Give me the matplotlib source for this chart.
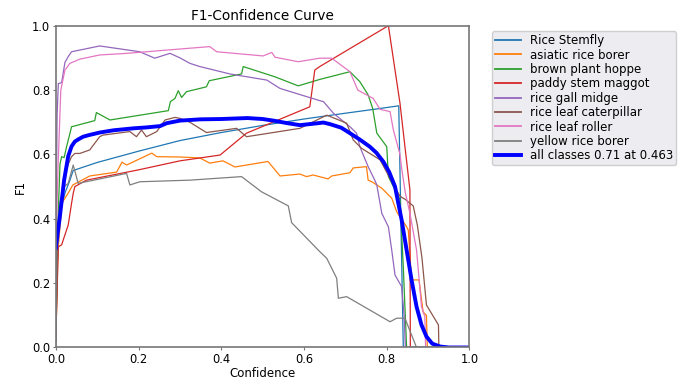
import matplotlib
matplotlib.use('Agg')
import matplotlib.pyplot as plt

# class names as shown in the legend
names = ['Rice Stemfly', 'asiatic rice borer', 'brown plant hoppe', 'paddy stem maggot',
         'rice gall midge', 'rice leaf caterpillar', 'rice leaf roller', 'yellow rice borer']

# per class F1 curves (confidence, F1)
stemfly_x = [0, 0.003, 0.01, 0.022, 0.034, 0.042, 0.1, 0.2, 0.3, 0.4, 0.5, 0.6, 0.7, 0.78, 0.829, 0.84, 1.0]
stemfly_y = [0.02, 0.25, 0.42, 0.48, 0.52, 0.55, 0.575, 0.61, 0.643, 0.668, 0.69, 0.71, 0.728, 0.742, 0.751, 0.0, 0.0]

asiatic_x = [0, 0.005, 0.015, 0.03, 0.041, 0.082, 0.147, 0.16, 0.171, 0.232, 0.244, 0.30, 0.348, 0.372, 0.404,
             0.433, 0.513, 0.542, 0.59, 0.606, 0.622, 0.658, 0.667, 0.711, 0.719, 0.751, 0.755, 0.764, 0.788,
             0.812, 0.824, 0.848, 0.852, 0.86, 0.878, 0.888, 0.896, 0.898, 1.0]
asiatic_y = [0.02, 0.3, 0.45, 0.48, 0.505, 0.533, 0.545, 0.576, 0.567, 0.604, 0.593, 0.592, 0.589, 0.573, 0.58,
             0.561, 0.578, 0.533, 0.539, 0.531, 0.536, 0.524, 0.533, 0.543, 0.558, 0.562, 0.52, 0.515, 0.495,
             0.464, 0.422, 0.375, 0.365, 0.21, 0.21, 0.11, 0.10, 0.0, 0.0]

hopper_x = [0, 0.004, 0.01, 0.014, 0.02, 0.026, 0.038, 0.05, 0.094, 0.098, 0.131, 0.272, 0.277, 0.288, 0.296,
            0.304, 0.316, 0.364, 0.371, 0.449, 0.453, 0.53, 0.586, 0.638, 0.711, 0.735, 0.755, 0.766, 0.776,
            0.80, 0.804, 0.816, 0.832, 0.84, 0.848, 1.0]
hopper_y = [0.02, 0.35, 0.57, 0.593, 0.59, 0.624, 0.686, 0.69, 0.705, 0.73, 0.707, 0.736, 0.764, 0.774, 0.798,
            0.777, 0.795, 0.81, 0.829, 0.85, 0.873, 0.841, 0.813, 0.833, 0.857, 0.826, 0.785, 0.743, 0.666,
            0.624, 0.531, 0.5, 0.46, 0.25, 0.0, 0.0]

maggot_x = [0, 0.006, 0.014, 0.03, 0.038, 0.042, 0.046, 0.074, 0.2, 0.30, 0.397, 0.461, 0.614, 0.626, 0.638,
            0.804, 0.82, 0.832, 0.844, 0.856, 0.857, 1.0]
maggot_y = [0.034, 0.313, 0.319, 0.381, 0.448, 0.479, 0.5, 0.52, 0.552, 0.58, 0.598, 0.666, 0.748, 0.862, 0.873,
            1.0, 0.862, 0.759, 0.624, 0.49, 0.0, 0.0]

midge_x = [0, 0.003, 0.006, 0.014, 0.022, 0.03, 0.038, 0.106, 0.203, 0.239, 0.276, 0.30, 0.324, 0.348, 0.421,
           0.51, 0.542, 0.638, 0.647, 0.671, 0.711, 0.727, 0.735, 0.755, 0.771, 0.776, 0.788, 0.804, 0.812,
           0.82, 0.836, 0.842, 0.845, 1.0]
midge_y = [0.3, 0.72, 0.82, 0.823, 0.886, 0.904, 0.919, 0.937, 0.919, 0.899, 0.914, 0.90, 0.883, 0.873, 0.85,
           0.831, 0.805, 0.767, 0.764, 0.728, 0.686, 0.666, 0.624, 0.562, 0.52, 0.505, 0.417, 0.375, 0.303,
           0.225, 0.189, 0.1, 0.0, 0.0]

caterpillar_x = [0, 0.005, 0.02, 0.03, 0.038, 0.046, 0.058, 0.082, 0.106, 0.114, 0.179, 0.195, 0.207, 0.219,
                 0.244, 0.264, 0.288, 0.30, 0.324, 0.364, 0.437, 0.461, 0.59, 0.655, 0.703, 0.719, 0.739, 0.784,
                 0.81, 0.832, 0.845, 0.864, 0.874, 0.885, 0.896, 0.925, 0.926, 1.0]
caterpillar_y = [0.02, 0.35, 0.52, 0.57, 0.593, 0.603, 0.603, 0.614, 0.655, 0.66, 0.671, 0.655, 0.676, 0.655,
                 0.671, 0.707, 0.715, 0.712, 0.70, 0.668, 0.681, 0.655, 0.681, 0.722, 0.697, 0.645, 0.619, 0.583,
                 0.52, 0.47, 0.46, 0.44, 0.38, 0.28, 0.132, 0.07, 0.0, 0.0]

roller_x = [0, 0.005, 0.012, 0.022, 0.034, 0.058, 0.106, 0.171, 0.324, 0.372, 0.389, 0.501, 0.522, 0.53, 0.586,
            0.638, 0.667, 0.711, 0.73, 0.767, 0.784, 0.808, 0.816, 0.832, 0.836, 0.845, 0.856, 0.872, 0.884,
            0.892, 0.894, 1.0]
roller_y = [0.3, 0.55, 0.8, 0.862, 0.883, 0.896, 0.909, 0.914, 0.93, 0.935, 0.919, 0.906, 0.917, 0.902, 0.888,
            0.899, 0.899, 0.857, 0.80, 0.774, 0.74, 0.733, 0.676, 0.60, 0.557, 0.48, 0.417, 0.303, 0.127,
            0.096, 0.0, 0.0]

borer_x = [0, 0.002, 0.01, 0.02, 0.03, 0.042, 0.054, 0.171, 0.179, 0.203, 0.324, 0.449, 0.497, 0.562, 0.57,
           0.638, 0.655, 0.679, 0.683, 0.703, 0.808, 0.824, 0.844, 0.872, 1.0]
borer_y = [0.0, 0.319, 0.45, 0.5, 0.51, 0.567, 0.51, 0.541, 0.505, 0.515, 0.52, 0.531, 0.484, 0.44, 0.388,
           0.298, 0.277, 0.215, 0.153, 0.158, 0.08, 0.091, 0.091, 0.0, 0.0]

# mean curve over all classes
all_x = [0, 0.01, 0.02, 0.03, 0.038, 0.046, 0.056, 0.066, 0.08, 0.106, 0.14, 0.187, 0.22, 0.252, 0.268, 0.3,
         0.35, 0.4, 0.463, 0.5, 0.526, 0.56, 0.59, 0.62, 0.647, 0.663, 0.69, 0.711, 0.735, 0.759, 0.775, 0.792,
         0.806, 0.82, 0.836, 0.848, 0.86, 0.872, 0.884, 0.896, 0.91, 0.929, 0.95, 1.0]
all_y = [0.31, 0.41, 0.52, 0.595, 0.625, 0.64, 0.648, 0.655, 0.66, 0.668, 0.675, 0.681, 0.684, 0.688, 0.697,
         0.705, 0.709, 0.71, 0.713, 0.71, 0.705, 0.697, 0.691, 0.695, 0.699, 0.694, 0.683, 0.666, 0.646, 0.624,
         0.605, 0.577, 0.545, 0.5, 0.396, 0.303, 0.21, 0.127, 0.07, 0.034, 0.012, 0.003, 0.0, 0.0]
all_label = 'all classes 0.71 at 0.463'

curves = [(stemfly_x, stemfly_y), (asiatic_x, asiatic_y), (hopper_x, hopper_y), (maggot_x, maggot_y),
          (midge_x, midge_y), (caterpillar_x, caterpillar_y), (roller_x, roller_y), (borer_x, borer_y)]

fig = plt.figure(figsize=(6.98, 3.88), dpi=100)
ax = fig.add_axes([0.080, 0.1044, 0.5926, 0.8294])

for i, (cx, cy) in enumerate(curves):
    ax.plot(cx, cy, linewidth=0.9, color='C%d' % i, label=names[i])
ax.plot(all_x, all_y, linewidth=2.8, color='blue', label=all_label)

ax.set_xlim(0, 1)
ax.set_ylim(0, 1)
ax.set_xticks([0, 0.2, 0.4, 0.6, 0.8, 1.0])
ax.set_yticks([0, 0.2, 0.4, 0.6, 0.8, 1.0])
ax.tick_params(labelsize=8.3, length=2, color='#777777', pad=2)
ax.set_xlabel('Confidence', fontsize=8.5, labelpad=1)
ax.set_ylabel('F1', fontsize=8.5)
ax.set_title('F1-Confidence Curve', fontsize=9.8, pad=4)
for s in ax.spines.values():
    s.set_color('#777777')
    s.set_linewidth(1.2)

leg = ax.legend(bbox_to_anchor=(1.054, 0.983), loc='upper left', fontsize=8.5, labelspacing=0.12,
                borderpad=0.25, handlelength=2.2, handletextpad=0.8, frameon=True, borderaxespad=0)
leg.get_frame().set_facecolor('#ececf1')
leg.get_frame().set_edgecolor('#cfcfcf')
leg.get_frame().set_alpha(1)
for h in leg.get_lines()[:-1]:
    h.set_linewidth(1.3)

fig.savefig('out.png', dpi=100)
